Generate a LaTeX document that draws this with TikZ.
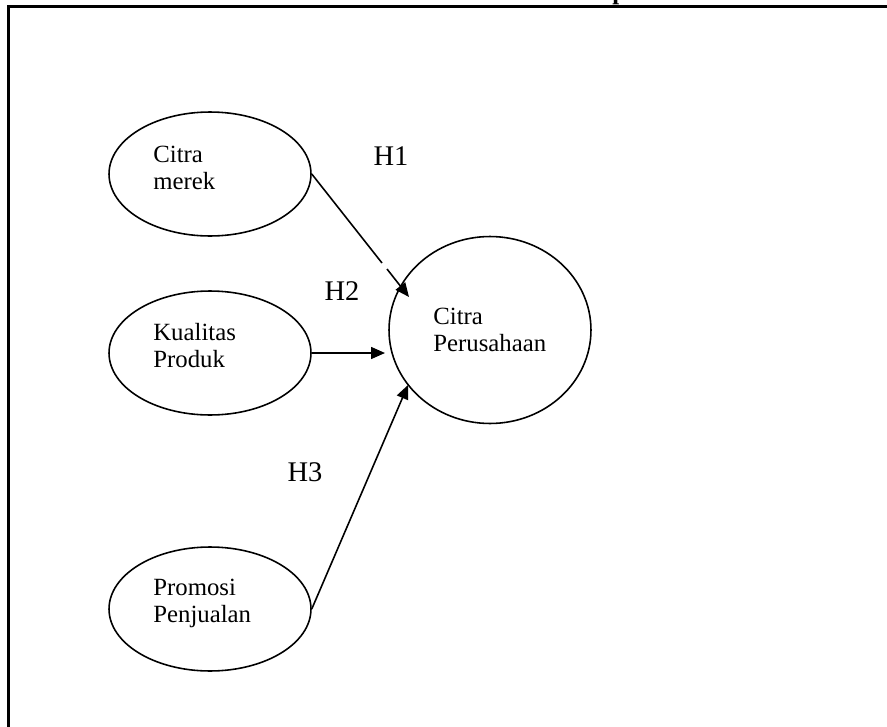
\documentclass[tikz,border=0pt]{standalone}
\usepackage{fontspec}
\setmainfont{Liberation Serif}
\usetikzlibrary{arrows.meta,shapes}
\tikzstyle{construct}=[ellipse,draw=black,line width=0.9pt,minimum width=4.04cm,minimum height=2.48cm,inner sep=0pt]
\tikzstyle{caption}=[anchor=base west,align=left,inner sep=0pt,font=\fontsize{14.1}{15.3}\selectfont]
\tikzstyle{hypo}=[inner sep=0pt,font=\fontsize{16.2}{18}\selectfont]
\tikzstyle{link}=[line width=0.9pt,-{Triangle[length=0.28cm,width=0.24cm]}]
\tikzstyle{frame}=[line width=1.5pt]

\begin{document}
\begin{tikzpicture}[x=0.02cm,y=-0.02cm]
        \useasboundingbox (0,0) rectangle (887,727);

        % frame and cut title
        \draw [frame] (887,6.5) -- (8.5,6.5) -- (8.5,727);
        \node at (612,5) [anchor=south west,inner sep=0pt,font=\fontsize{14.1}{15.3}\selectfont\bfseries] (title) {p};

        % constructs
        \node at (210,174) [construct]                         (merek)      {};
        \node at (210,353) [construct]                         (kualitas)   {};
        \node at (210,609) [construct]                         (promosi)    {};
        \node at (490,330) [construct,minimum height=3.74cm]   (perusahaan) {};

        % captions (anchored on the last line)
        \node at (153,189) [caption] (merekText)      {Citra\\merek};
        \node at (153,367) [caption] (kualitasText)   {Kualitas\\Produk};
        \node at (153,622) [caption] (promosiText)    {Promosi\\Penjualan};
        \node at (433,351) [caption] (perusahaanText) {Citra\\Perusahaan};

        % hypotheses
        \node at (391,156) [hypo] (h1) {H1};
        \node at (342,291) [hypo] (h2) {H2};
        \node at (305,472) [hypo] (h3) {H3};

        \coordinate (h1break)  at (382,263);
        \coordinate (h1resume) at (387,269);
        \coordinate (h1tip)    at (409,297);
        \coordinate (h2tip)    at (385,353);
        \coordinate (h3tip)    at (408,385);

        \draw [line width=0.9pt] (merek.east) -- (h1break);
        \draw [link] (h1resume) -- (h1tip);
        \draw [link] (kualitas.east) -- (h2tip);
        \draw [link] (promosi.east) -- (h3tip);
      \end{tikzpicture}
\end{document}
